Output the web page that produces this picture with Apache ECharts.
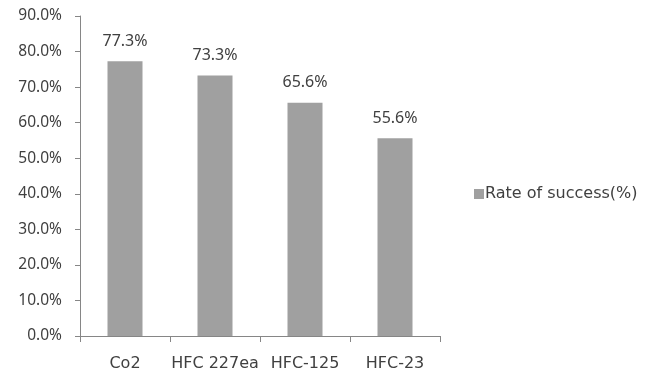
<!DOCTYPE html>
<html>
<head>
<meta charset="utf-8">
<script src="https://cdn.jsdelivr.net/npm/echarts@6/dist/echarts.min.js"></script>
<style>
  html, body { margin: 0; padding: 0; background: #fff; }
  #chart { width: 649px; height: 376px; }
</style>
</head>
<body>
<div id="chart"></div>
<script>
// Agent names and their success rates (%)
const categories = ['Co2', 'HFC 227ea', 'HFC-125', 'HFC-23'];
const successRates = [77.3, 73.3, 65.6, 55.6];
const seriesName = 'Rate of success(%)';

const WORD_FONT = '"DejaVu Sans", sans-serif';
const NUM_FONT = '"Noto Sans", "DejaVu Sans", sans-serif';
const TEXT = '#404040';
const AXIS = '#868686';

const chart = echarts.init(document.getElementById('chart'), null, { renderer: 'canvas' });
chart.setOption({
  animation: false,
  textStyle: { fontFamily: WORD_FONT },
  grid: { left: 80, right: 209, top: 16, bottom: 40, containLabel: false },
  legend: {
    data: [seriesName],
    left: 474,
    top: 186,
    padding: 0,
    itemWidth: 10,
    itemHeight: 10,
    itemGap: 0,
    icon: 'rect',
    textStyle: { fontFamily: WORD_FONT, fontSize: 16, color: TEXT, padding: [0, 0, 0, -4] }
  },
  xAxis: {
    type: 'category',
    data: categories,
    axisLine: { lineStyle: { color: AXIS, width: 1 } },
    axisTick: { show: true, alignWithLabel: false, length: 6, lineStyle: { color: AXIS } },
    axisLabel: { color: TEXT, fontSize: 16, fontFamily: WORD_FONT, margin: 20, interval: 0 }
  },
  yAxis: {
    type: 'value',
    min: 0,
    max: 90,
    interval: 10,
    axisLine: { show: true, lineStyle: { color: AXIS, width: 1 } },
    axisTick: { show: true, length: 5, lineStyle: { color: AXIS } },
    splitLine: { show: false },
    axisLabel: {
      color: TEXT, fontSize: 15.5, fontFamily: NUM_FONT, margin: 18,
      formatter: v => v.toFixed(1) + '%'
    }
  },
  series: [{
    name: seriesName,
    type: 'bar',
    data: successRates,
    barWidth: 35,
    itemStyle: { color: '#a0a0a0' },
    label: {
      show: true,
      position: 'top',
      distance: 12,
      color: TEXT,
      fontSize: 16,
      fontFamily: NUM_FONT,
      formatter: p => p.value.toFixed(1) + '%'
    }
  }]
});
</script>
</body>
</html>
